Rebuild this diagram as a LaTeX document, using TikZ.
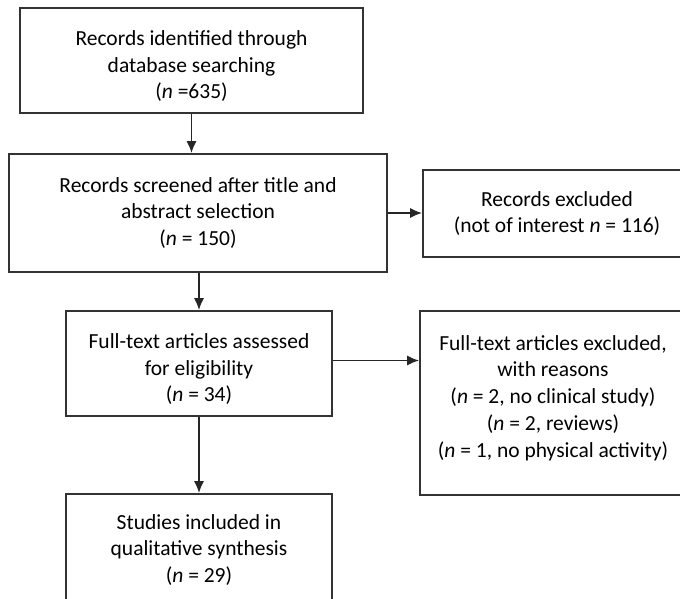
\documentclass[tikz,border=0pt]{standalone}
\usepackage{fontspec}
\setmainfont{Carlito}
\usetikzlibrary{arrows.meta}
\newcommand{\downgap}{\rule{0pt}{26pt}}
\tikzset{
  flowbox/.style={draw=black!80, line width=1.6pt, rectangle, align=center,
    inner sep=0pt, font=\fontsize{21.5}{26.8}\selectfont},
  flowtext/.style={align=center, inner sep=0pt, font=\fontsize{21.5}{26.8}\selectfont},
  flowarrow/.style={draw=black!85, line width=1.8pt, -{Latex[length=12pt,width=10pt]}},
}
\begin{document}
\begin{tikzpicture}[x=1pt,y=-1pt]
\useasboundingbox (0,0) rectangle (680,598);
\clip (0,0) rectangle (680,598);
\node[flowbox, minimum width=343pt, minimum height=105pt] (ident) at (191.5,60.5)
  {\downgap Records identified through\\database searching\\(\textit{n} =635)};
\node[flowbox, minimum width=378pt, minimum height=118pt] (screen) at (198,213)
  {Records screened after title and\\abstract selection\\(\textit{n} = 150)};
\node[flowbox, minimum width=268pt, minimum height=87pt] (excl) at (557,213.5)
  {Records excluded\\(not of interest \textit{n} = 116)};
\node[flowbox, minimum width=266pt, minimum height=105pt] (full) at (199,363.5)
  {\downgap Full-text articles assessed\\for eligibility\\(\textit{n} = 34)};
\node[flowbox, minimum width=266pt, minimum height=184pt] (fullexcl) at (553,403) {};
\node[flowtext] (fullexcltxt) at (553,398)
  {Full-text articles excluded,\\with reasons\\(\textit{n} = 2, no clinical study)\\(\textit{n} = 2, reviews)\\(\textit{n} = 1, no physical activity)};
\node[flowbox, minimum width=266pt, minimum height=112pt] (incl) at (199,550)
  {Studies included in\\qualitative synthesis\\(\textit{n} = 29)};
\draw[flowarrow] (ident.south) -- (ident.south |- screen.north);
\draw[flowarrow] (screen.east) -- (screen.east -| excl.west);
\draw[flowarrow] (full.north |- screen.south) -- (full.north);
\draw[flowarrow] ([yshift=3pt]full.east) -- ([yshift=3pt]full.east -| fullexcl.west);
\draw[flowarrow] (full.south) -- (incl.north);
\end{tikzpicture}
\end{document}
